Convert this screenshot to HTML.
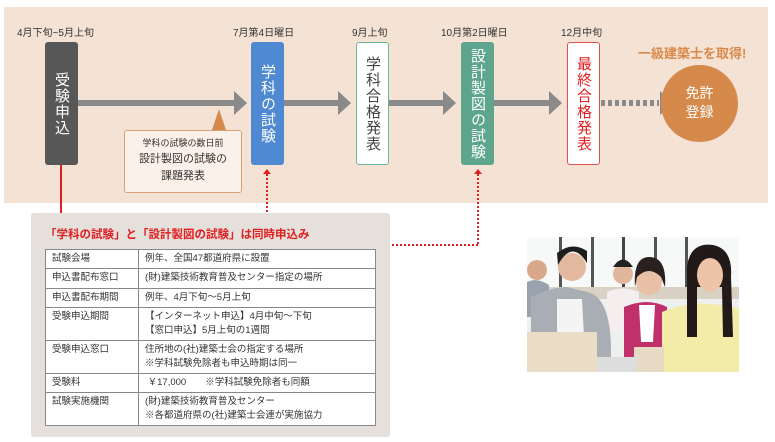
<!DOCTYPE html>
<html><head><meta charset="utf-8"><style>
*{margin:0;padding:0;box-sizing:border-box}
body{width:775px;height:442px;background:#fff;position:relative;overflow:hidden;font-family:"Liberation Sans","Noto Sans CJK JP",sans-serif;color:#333}
.a{position:absolute}
.date{font-size:10px;color:#333;top:24px;white-space:nowrap}
.box{position:absolute;top:42px;width:33px;height:123px;border-radius:3px;writing-mode:vertical-rl;text-orientation:upright;font-size:15px;display:flex;align-items:center;justify-content:center;letter-spacing:1px}
.bar{position:absolute;height:6px;background:#8a8a8a;top:100px}
.ah{position:absolute;width:0;height:0;border-top:12px solid transparent;border-bottom:12px solid transparent;border-left:13px solid #8a8a8a;top:91px}
table{border-collapse:collapse;font-size:9.5px;color:#333}
td{border:1px solid #888;padding:2px 6px;vertical-align:top;line-height:14px;background:#fff}
</style></head><body>
<div class="a" style="left:4px;top:7px;width:764px;height:196px;background:#f4e3d5"></div>
<div class="a date" style="left:17px">4月下旬~5月上旬</div>
<div class="a date" style="left:233px">7月第4日曜日</div>
<div class="a date" style="left:352px">9月上旬</div>
<div class="a date" style="left:441px">10月第2日曜日</div>
<div class="a date" style="left:561px">12月中旬</div>
<div class="bar" style="left:78px;width:157px"></div><div class="ah" style="left:234px"></div>
<div class="bar" style="left:283px;width:56px"></div><div class="ah" style="left:338px"></div>
<div class="bar" style="left:389px;width:55px"></div><div class="ah" style="left:443px"></div>
<div class="bar" style="left:494px;width:56px"></div><div class="ah" style="left:549px"></div>
<div class="a" style="left:601px;top:100px;width:58px;height:6px;background:repeating-linear-gradient(90deg,#8a8a8a 0 4px,transparent 4px 7px)"></div>
<div class="ah" style="left:660px"></div>
<div class="box" style="left:45px;background:#575757;color:#fff">受験申込</div>
<div class="box" style="left:251px;background:#4e89d2;color:#fff">学科の試験</div>
<div class="box" style="left:356px;background:#fff;border:1.5px solid #6cb49a;color:#444">学科合格発表</div>
<div class="box" style="left:461px;background:#5da58d;color:#fff">設計製図の試験</div>
<div class="box" style="left:567px;background:#fff;border:1.5px solid #e05050;color:#e02020">最終合格発表</div>
<div class="a" style="left:638px;top:43px;font-size:13px;font-weight:bold;color:#d98a4a;white-space:nowrap">一級建築士を取得!</div>
<div class="a" style="left:661px;top:65px;width:77px;height:77px;border-radius:50%;background:#d58a4c;color:#fff;font-size:14px;text-align:center;line-height:19px;padding-top:19px">免許<br>登録</div>
<div class="a" style="left:212px;top:109px;width:0;height:0;border-left:7px solid transparent;border-right:7px solid transparent;border-bottom:21px solid #d58a4c"></div>
<div class="a" style="left:124px;top:130px;width:118px;height:63px;border:1.5px solid #dba074;border-radius:3px;background:#fcf1e8;text-align:center;font-size:9px;padding-top:6px;line-height:13px">学科の試験の数日前<div style="font-size:11px;line-height:17px;margin-top:1px">設計製図の試験の<br>課題発表</div></div>
<div class="a" style="left:60px;top:165px;width:2px;height:48px;background:#e02020"></div>
<div class="a" style="left:266px;top:174px;width:2px;height:39px;background:repeating-linear-gradient(180deg,#e02020 0 2px,transparent 2px 4px)"></div>
<div class="a" style="left:263px;top:169px;width:0;height:0;border-left:4px solid transparent;border-right:4px solid transparent;border-bottom:5px solid #e02020"></div>
<div class="a" style="left:392px;top:244px;width:87px;height:2px;background:repeating-linear-gradient(90deg,#e02020 0 2px,transparent 2px 4px)"></div>
<div class="a" style="left:477px;top:174px;width:2px;height:71px;background:repeating-linear-gradient(180deg,#e02020 0 2px,transparent 2px 4px)"></div>
<div class="a" style="left:474px;top:169px;width:0;height:0;border-left:4px solid transparent;border-right:4px solid transparent;border-bottom:5px solid #e02020"></div>
<div class="a" style="left:31px;top:213px;width:359px;height:224px;background:#e5e0dc;border-radius:3px"></div>
<div class="a" style="left:45px;top:226px;font-size:11.5px;font-weight:bold;color:#e02020;white-space:nowrap">「学科の試験」と「設計製図の試験」は同時申込み</div>
<table class="a" style="left:45px;top:249px;width:331px">
<tr style="height:19px"><td style="width:93px">試験会場</td><td>例年、全国47都道府県に設置</td></tr>
<tr style="height:20px"><td>申込書配布窓口</td><td>(財)建築技術教育普及センター指定の場所</td></tr>
<tr style="height:19px"><td>申込書配布期間</td><td>例年、4月下旬～5月上旬</td></tr>
<tr style="height:32px"><td>受験申込期間</td><td>【インターネット申込】4月中旬～下旬<br>【窓口申込】5月上旬の1週間</td></tr>
<tr style="height:33px"><td>受験申込窓口</td><td>住所地の(社)建築士会の指定する場所<br>※学科試験免除者も申込時期は同一</td></tr>
<tr style="height:19px"><td>受験料</td><td>&nbsp;￥17,000　　※学科試験免除者も同額</td></tr>
<tr style="height:33px"><td>試験実施機関</td><td>(財)建築技術教育普及センター<br>※各都道府県の(社)建築士会連が実施協力</td></tr>
</table>
<svg class="a" style="left:527px;top:237px" width="212" height="135" viewBox="0 0 212 135">
<rect width="212" height="135" fill="#eef0f0"/>
<rect x="0" y="0" width="212" height="50" fill="#f7f8f8"/>
<rect x="32" y="0" width="3" height="50" fill="#555"/><rect x="64" y="0" width="3" height="50" fill="#555"/><rect x="95" y="0" width="3" height="50" fill="#444"/><rect x="127" y="0" width="3" height="50" fill="#555"/><rect x="158" y="0" width="3" height="50" fill="#555"/>
<rect x="0" y="50" width="212" height="12" fill="#d9d2c4"/>
<circle cx="10" cy="33" r="10" fill="#d9a88a"/><path d="M0 45 Q10 40 22 48 L22 80 L0 80Z" fill="#9aa3ad"/>
<circle cx="96" cy="37" r="10" fill="#e0b69c"/><path d="M86 30 Q96 15 106 30 Z" fill="#222"/><path d="M80 55 Q96 48 112 55 L112 95 L80 95Z" fill="#f4eeee"/>
<path d="M4 60 Q25 50 40 50 L60 55 Q85 60 84 120 L4 120Z" fill="#a9aeb4"/><path d="M30 62 L55 62 L58 118 L30 118Z" fill="#f4f4f4"/>
<circle cx="45" cy="30" r="14" fill="#e2b89e"/><path d="M31 28 Q45 2 60 26 L60 14 Q45 4 30 16Z" fill="#1d1d1d"/>
<path d="M97 70 Q120 60 140 70 L142 120 L97 120Z" fill="#c0306a"/><path d="M112 68 L128 68 L126 105 L114 105Z" fill="#fff"/>
<circle cx="122" cy="45" r="13" fill="#e8c0a6"/><path d="M108 50 Q106 20 122 20 Q140 20 138 50 L134 40 Q122 28 110 40Z" fill="#2a2020"/>
<path d="M135 75 Q170 60 212 72 L212 135 L135 135Z" fill="#f2eca8"/>
<path d="M160 30 Q163 5 186 8 Q206 12 204 40 L206 100 L196 100 L195 50 L170 50 L170 100 L160 100Z" fill="#221a18"/>
<ellipse cx="183" cy="38" rx="13" ry="17" fill="#eec4a8"/>
<rect x="0" y="95" width="70" height="40" fill="#e9ddc6"/><rect x="107" y="110" width="30" height="25" fill="#e6dac4"/>
<rect x="70" y="120" width="40" height="15" fill="#ddd"/>
</svg>
</body></html>
